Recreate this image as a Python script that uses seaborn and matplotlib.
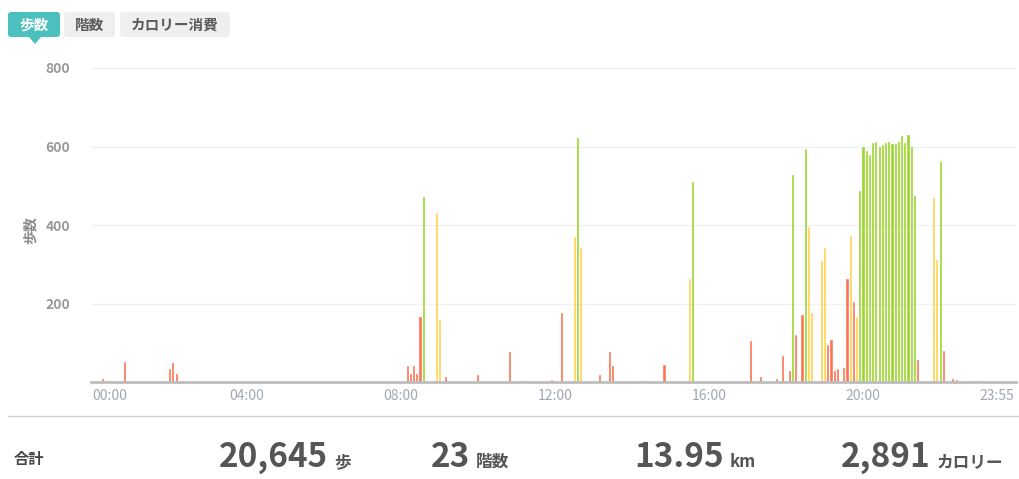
import pandas as pd
import matplotlib
matplotlib.use('Agg')
import matplotlib.pyplot as plt
from matplotlib.patches import FancyBboxPatch, Polygon
import seaborn as sns

sns.set_style('white')
plt.rcParams['font.family'] = ['Noto Sans CJK JP', 'DejaVu Sans']

# 5-minute step counts (only the non-empty slots)
times = ['00:15', '00:20', '00:50', '02:00', '02:05', '02:10',
         '08:10', '08:15', '08:20', '08:25', '08:30', '08:35', '08:40', '08:55', '09:00', '09:10',
         '10:00', '10:50', '11:10', '11:55', '12:10', '12:30', '12:35', '12:40',
         '13:10', '13:25', '13:30', '14:15', '14:50', '15:30', '15:35',
         '17:05', '17:20', '17:45', '17:55', '18:00', '18:05', '18:10', '18:15', '18:25', '18:30',
         '18:35', '18:40', '18:55', '19:00', '19:05', '19:10', '19:15', '19:20', '19:30', '19:35',
         '19:40', '19:45', '19:50', '19:55', '20:00', '20:05', '20:10', '20:15', '20:20', '20:25',
         '20:30', '20:35', '20:40', '20:45', '20:50', '20:55', '21:00', '21:05', '21:10', '21:15',
         '21:20', '21:25', '21:50', '21:55', '22:00', '22:05', '22:20', '22:25', '22:45', '22:50', '23:05']
steps = [8, 5, 52, 35, 50, 22,
         43, 21, 43, 21, 166, 472, 3, 431, 159, 15,
         19, 77, 3, 6, 178, 371, 622, 341,
         19, 78, 41, 3, 44, 262, 511,
         105, 13, 9, 67, 3, 28, 529, 120, 172, 594,
         396, 178, 309, 343, 95, 108, 28, 34, 36, 263,
         373, 205, 166, 487, 600, 590, 579, 609, 612, 598,
         603, 609, 612, 606, 606, 612, 628, 609, 630, 600,
         474, 56, 469, 312, 560, 81, 10, 6, 3, 3, 3]
levels = ['low'] * 6 + \
         ['low', 'low', 'low', 'low', 'low', 'high', 'low', 'mid', 'mid', 'low'] + \
         ['low', 'low', 'low', 'low', 'low', 'mid', 'high', 'mid'] + \
         ['low', 'low', 'low', 'low', 'low', 'mid', 'high'] + \
         ['low', 'low', 'low', 'low', 'low', 'low', 'high', 'low', 'low', 'high'] + \
         ['mid', 'mid', 'mid', 'mid', 'low', 'low', 'low', 'low', 'low', 'low'] + \
         ['mid', 'low', 'mid', 'high'] + ['high'] * 17 + \
         ['low', 'mid', 'mid', 'high', 'low', 'low', 'low', 'low', 'low', 'low']

tick_labels = ['00:00', '04:00', '08:00', '12:00', '16:00', '20:00', '23:55']
totals = ['20,645', '23', '13.95', '2,891']
units = ['歩', '階数', 'km', 'カロリー']
tabs = ['歩数', '階数', 'カロリー消費']

palette = {'low': '#fd7452', 'mid': '#ffd34e', 'high': '#9bd62c'}

slots = [f'{h:02d}:{m:02d}' for h in range(24) for m in range(0, 60, 5)]
df = pd.DataFrame({'time': slots})
df = df.merge(pd.DataFrame({'time': times, 'steps': steps, 'level': levels}), on='time', how='left')
df['steps'] = df['steps'].fillna(0)
df['level'] = df['level'].fillna('low')

fig = plt.figure(figsize=(10.19, 4.79), dpi=100)
ax = fig.add_axes([0.0893, 0.2015, 0.9073, 0.6566])

sns.barplot(data=df, x='time', y='steps', hue='level', order=slots,
            hue_order=['low', 'mid', 'high'], palette=palette, dodge=False,
            width=0.35, saturation=1, errorbar=None, legend=False, ax=ax)
# give the thin bars an outline in their own colour so they stay visible
for bar in ax.patches:
    bar.set_edgecolor(bar.get_facecolor())
    bar.set_linewidth(0.45)

ax.set_ylim(0, 800)
ax.set_xlim(-0.5, len(slots) - 0.5)
ax.set_yticks([200, 400, 600, 800])
ax.yaxis.grid(True, color='#f0f0f0', linewidth=1)
ax.set_axisbelow(True)
for s in ['top', 'right', 'left']:
    ax.spines[s].set_visible(False)
ax.spines['bottom'].set_color('#bdbdbd')
ax.spines['bottom'].set_linewidth(2)
ax.spines['bottom'].set_zorder(5)

ax.set_xticks([0, 48, 96, 144, 192, 240, 287])
ax.set_xticklabels(tick_labels)
ax.tick_params(axis='x', length=0, pad=5, labelsize=10, labelcolor='#a0a8b2')
ax.tick_params(axis='y', length=0, pad=15, labelsize=10, labelcolor='#999999')
for lab in ax.get_yticklabels():
    lab.set_fontweight('bold')
xl = ax.get_xticklabels()
xl[0].set_horizontalalignment('left')
xl[-1].set_horizontalalignment('right')
ax.set_xlabel('')
ax.set_ylabel('歩数', fontsize=10, fontweight='bold', color='#8a8a8a')
ax.yaxis.set_label_coords(-0.058, 0.484)

# overlay in pixel coordinates for tabs and totals
ov = fig.add_axes([0, 0, 1, 1], zorder=-1)
ov.set_xlim(0, 1019)
ov.set_ylim(479, 0)
ov.axis('off')

tab_boxes = [(8, 60), (64, 115), (120, 230)]
for i, (label, (x0, x1)) in enumerate(zip(tabs, tab_boxes)):
    fc = '#4cc0bf' if i == 0 else '#efefef'
    tc = 'white' if i == 0 else '#5a5a5a'
    ov.add_patch(FancyBboxPatch((x0, 12), x1 - x0, 25, boxstyle='round,pad=0,rounding_size=3',
                                fc=fc, ec='none'))
    ov.text((x0 + x1) / 2, 24.5, label, ha='center', va='center', fontsize=10.5,
            fontweight='bold', color=tc)
ov.add_patch(Polygon([[28, 36], [42, 36], [35, 44]], closed=True, fc='#4cc0bf', ec='none'))

ov.plot([8, 1019], [416, 416], color='#d0d0d0', linewidth=1)
ov.text(14, 459, '合計', ha='left', va='center', fontsize=11, fontweight='bold', color='#444444')
num_right = [328, 470, 724, 931]
for val, unit, xr in zip(totals, units, num_right):
    ov.text(xr, 467, val, ha='right', va='baseline', fontsize=24, fontweight='bold', color='#555555')
    ov.text(xr + 6, 467, unit, ha='left', va='baseline', fontsize=12, fontweight='bold', color='#555555')

fig.savefig('out.png', dpi=100)
